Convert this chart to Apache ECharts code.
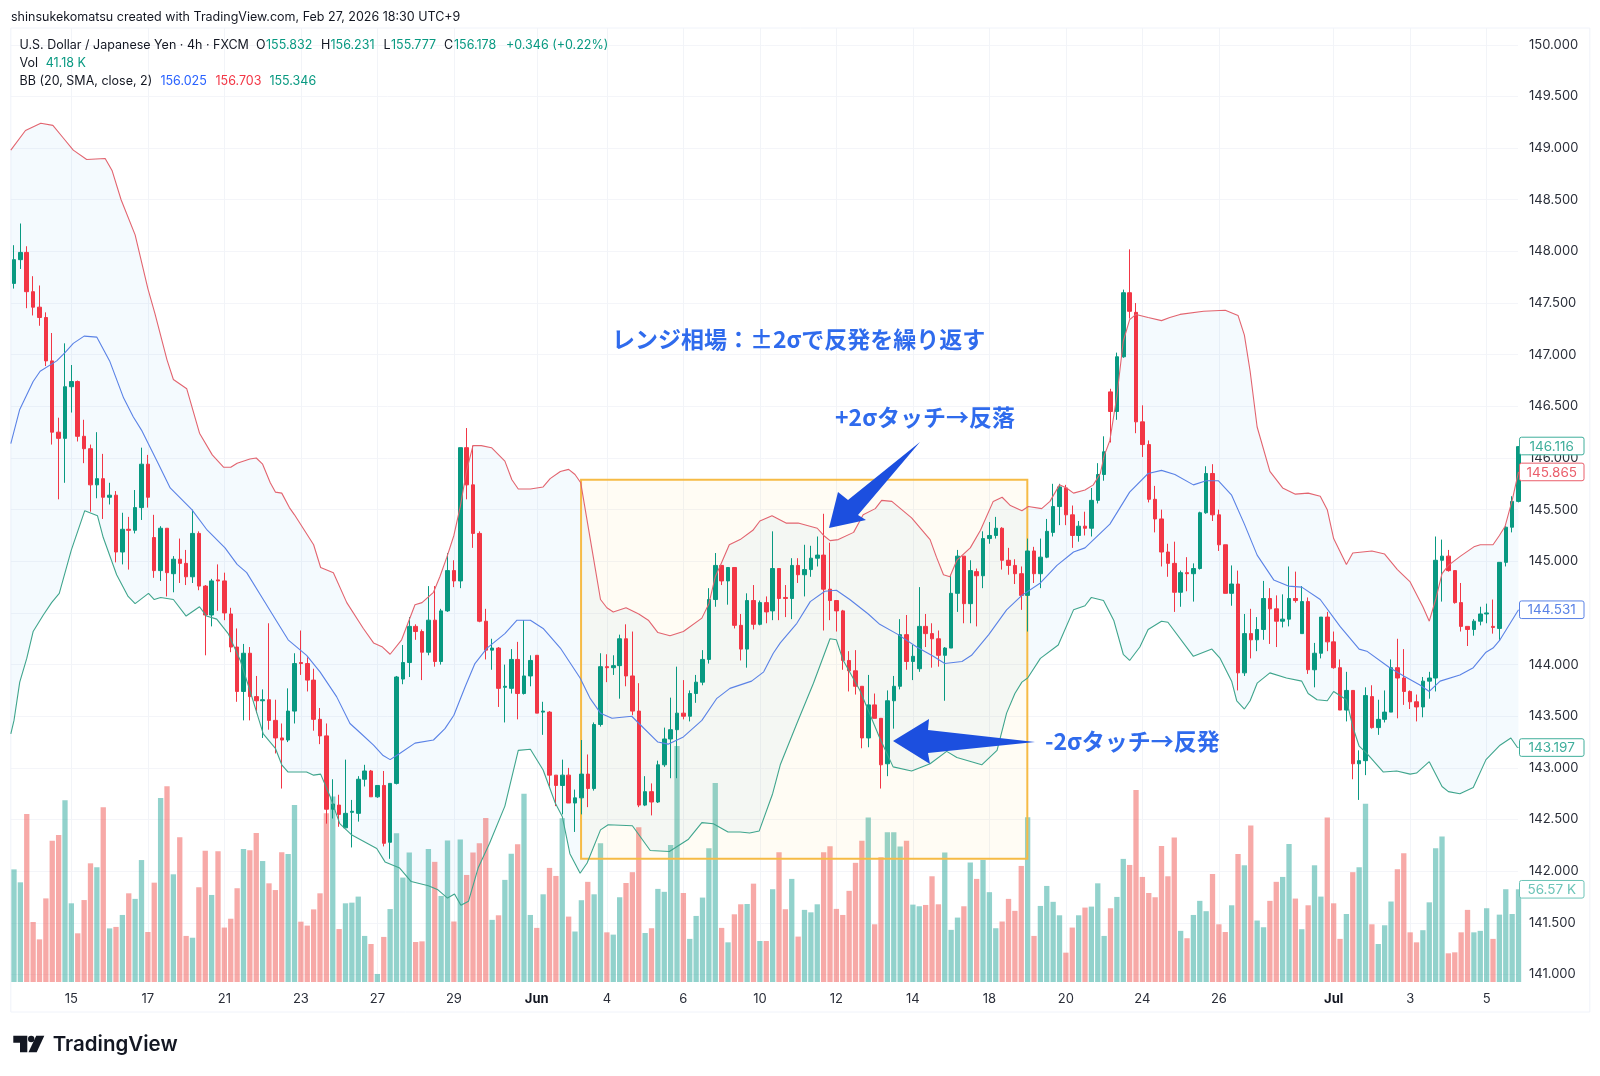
<!DOCTYPE html>
<html>
<head>
<meta charset="utf-8">
<title>USDJPY 4h</title>
<style>
html,body{margin:0;padding:0;background:#fff;}
#chart{width:1600px;height:1076px;}
</style>
<script src="https://cdn.jsdelivr.net/npm/echarts@6/dist/echarts.min.js"></script>
</head>
<body>
<div id="chart"></div>
<script>
// bar index of each date label on the time axis
var tickIdx = [9,21,33,45,57,69,82,93,105,117,129,141,153,165,177,189,207,219,231];
var tickText = ['15','17','21','23','27','29','Jun','4','6','10','12','14','18','20','24','26','Jul','3','5'];

var opens = [
147.69,147.92,147.99,147.61,147.46,147.36,146.94,146.25,146.19,146.69,
146.74,146.21,146.09,145.74,145.80,145.62,145.64,145.09,145.31,145.30,
145.52,145.94,145.23,144.91,145.32,144.88,145.02,144.98,144.85,145.27,
144.76,144.48,144.82,144.81,144.49,144.17,143.74,144.11,143.69,143.65,
143.66,143.46,143.29,143.27,143.55,144.02,144.01,143.85,143.47,143.31,
142.60,142.64,142.42,142.57,142.56,142.89,142.97,142.72,142.83,142.28,
142.85,143.86,144.02,144.37,144.32,144.12,144.43,144.03,144.52,144.91,
144.81,146.10,145.74,145.27,144.42,144.14,144.16,143.78,143.77,144.05,
143.72,143.89,144.09,143.54,143.54,142.93,142.83,142.93,142.66,142.71,
142.94,142.80,143.42,143.98,143.97,143.99,144.25,143.89,143.55,142.64,
142.77,142.67,143.03,143.28,143.37,143.53,143.50,143.72,143.83,144.05,
144.63,144.96,144.81,144.94,144.38,144.15,144.62,144.39,144.60,144.52,
144.93,144.65,144.64,144.96,144.87,144.92,145.03,145.06,144.73,144.62,
144.52,144.04,143.94,143.79,143.29,143.61,143.48,143.04,143.65,143.79,
144.29,144.03,143.96,144.37,144.30,144.25,144.09,144.16,144.69,145.05,
144.59,144.90,144.86,145.22,145.25,145.32,145.01,144.96,144.88,144.67,
145.10,144.88,145.04,145.28,145.53,145.71,145.45,145.25,145.34,145.32,
145.59,145.84,146.64,146.45,146.98,147.60,147.41,146.35,146.13,145.60,
145.41,145.09,144.98,144.70,144.89,144.88,144.93,145.47,145.85,145.45,
145.16,144.69,144.78,143.92,144.30,144.24,144.34,144.64,144.54,144.42,
144.44,144.64,144.30,144.61,143.95,144.11,144.46,144.22,143.97,143.56,
143.75,143.04,143.07,143.69,143.39,143.47,143.54,143.97,143.87,143.74,
143.64,143.59,143.84,143.87,145.01,145.05,144.91,144.60,144.37,144.34,
144.42,144.49,144.37,144.35,144.99,145.33,145.58];

var closes = [
147.92,147.99,147.61,147.46,147.36,146.94,146.25,146.19,146.69,146.74,
146.21,146.09,145.74,145.80,145.62,145.64,145.09,145.31,145.30,145.52,
145.94,145.62,144.91,145.32,144.89,145.02,144.98,144.85,145.27,144.76,
144.48,144.81,144.81,144.50,144.17,143.74,144.11,143.69,143.65,143.66,
143.46,143.29,143.27,143.55,144.01,144.01,143.85,143.47,143.31,142.60,
142.65,142.55,142.56,142.58,142.89,142.97,142.72,142.83,142.27,142.85,
143.88,144.02,144.37,144.32,144.12,144.43,144.03,144.52,144.91,144.81,
146.10,145.74,145.27,144.42,144.14,144.16,143.77,143.79,144.05,143.72,
143.89,144.04,143.53,143.55,142.93,142.83,142.93,142.66,142.71,142.94,
142.80,143.42,143.98,143.97,143.99,144.25,143.89,143.55,142.64,142.77,
142.67,143.03,143.28,143.37,143.53,143.50,143.72,143.83,144.05,144.63,
144.96,144.81,144.94,144.38,144.15,144.62,144.39,144.60,144.51,144.93,
144.64,144.64,144.96,144.87,144.92,145.03,145.06,144.73,144.62,144.52,
144.04,143.94,143.79,143.29,143.61,143.48,143.03,143.65,143.79,144.29,
144.03,144.08,144.37,144.30,144.25,144.09,144.16,144.69,145.05,144.59,
144.91,144.86,145.22,145.25,145.32,145.01,144.96,144.88,144.67,145.10,
144.88,145.04,145.29,145.53,145.72,145.45,145.25,145.34,145.32,145.59,
145.84,146.06,146.45,146.98,147.60,147.42,146.35,146.13,145.60,145.41,
145.09,144.98,144.70,144.89,144.88,144.93,145.47,145.85,145.45,145.16,
144.69,144.78,143.92,144.30,144.24,144.34,144.64,144.54,144.42,144.44,
144.64,144.62,144.61,143.95,144.11,144.46,144.22,143.97,143.56,143.75,
143.04,143.07,143.70,143.39,143.47,143.54,143.97,143.87,143.74,143.64,
143.59,143.84,143.87,145.01,145.05,144.91,144.60,144.37,144.34,144.42,
144.49,144.50,144.36,144.99,145.33,145.58,146.11];

var highs = [
148.06,148.27,148.05,147.76,147.67,147.41,147.21,146.39,147.11,146.90,
146.75,146.37,146.13,146.25,146.04,145.76,145.68,145.47,145.43,145.69,
146.10,146.03,145.45,145.34,145.32,145.05,145.22,145.11,145.50,145.29,
144.77,144.83,144.97,144.89,144.55,144.35,144.20,144.17,143.89,143.76,
144.40,143.66,143.43,143.77,144.11,144.33,144.07,143.96,143.58,143.43,
142.89,142.74,143.08,142.69,142.92,143.03,142.98,142.83,142.97,142.85,
143.89,144.19,144.46,144.39,144.34,144.76,144.76,144.54,145.08,145.01,
146.10,146.29,146.12,145.29,144.54,144.25,144.17,144.00,144.15,144.22,
144.43,144.09,144.09,143.64,143.55,142.93,143.08,143.00,142.79,143.27,
143.13,143.44,144.11,144.10,144.09,144.29,144.39,144.32,143.82,142.92,
142.85,143.07,143.39,143.68,143.98,143.85,143.75,143.90,144.14,144.74,
145.08,144.96,144.94,144.94,144.49,144.69,144.77,144.62,144.66,145.29,
144.93,144.77,145.03,145.03,145.16,145.15,145.24,145.46,145.18,144.62,
144.53,144.13,144.14,143.79,143.90,143.72,143.48,143.75,143.89,144.44,
144.48,144.19,144.75,144.49,144.40,144.33,144.17,144.87,145.11,145.05,
145.01,144.93,145.29,145.38,145.43,145.33,145.13,145.02,144.95,145.22,
145.14,145.22,145.41,145.75,145.75,145.74,145.54,145.39,145.48,145.71,
145.95,146.21,146.67,147.02,147.63,148.02,147.50,146.51,146.17,145.73,
145.50,145.17,145.19,144.91,145.04,144.98,145.48,145.92,145.94,145.50,
145.16,144.96,144.91,144.49,144.54,144.46,144.81,144.74,144.67,144.68,
144.95,144.90,144.76,144.65,144.21,144.46,144.51,144.32,144.05,143.93,
143.75,143.17,143.78,143.80,143.66,143.75,144.05,144.25,144.15,143.75,
143.71,143.88,143.93,145.24,145.21,145.11,144.91,144.79,144.37,144.44,
144.56,144.59,144.63,144.99,145.34,145.63,146.116];

var lows = [
147.64,147.83,147.45,147.38,147.28,146.89,146.13,145.60,145.76,146.44,
146.16,145.95,145.48,145.61,145.41,145.55,144.99,144.97,144.92,145.27,
145.40,145.52,144.84,144.81,144.66,144.70,144.79,144.77,144.79,144.72,
144.09,144.37,144.52,144.43,144.12,143.64,143.46,143.46,143.53,143.29,
143.37,143.14,142.80,143.25,143.43,143.90,143.74,143.36,143.23,142.46,
142.51,142.43,142.42,142.23,142.48,142.82,142.72,142.71,142.24,142.12,
142.84,143.81,143.88,144.24,143.85,144.09,143.98,144.00,144.51,144.75,
144.74,145.60,145.13,144.41,144.05,143.95,143.59,143.44,143.72,143.47,
143.71,143.79,143.53,143.32,142.82,142.63,142.55,142.66,142.38,142.55,
142.62,142.78,143.40,143.83,143.90,143.67,143.79,143.51,142.62,142.63,
142.54,142.66,143.01,142.90,142.90,143.47,143.45,143.63,143.80,144.01,
144.56,144.77,144.58,144.35,144.04,143.97,144.34,144.38,144.40,144.43,
144.43,144.46,144.44,144.79,144.66,144.85,144.95,144.33,144.43,144.32,
143.95,143.74,143.71,143.19,143.20,143.48,142.80,142.92,143.38,143.76,
143.95,143.85,143.93,144.17,143.97,143.98,143.65,144.16,144.51,144.40,
144.40,144.37,144.74,145.17,145.22,144.92,144.87,144.78,144.53,144.32,
144.79,144.74,145.03,145.24,145.35,145.35,145.13,145.19,145.25,145.24,
145.56,145.78,146.15,146.37,146.97,147.35,146.24,146.01,145.57,145.28,
144.95,144.85,144.51,144.56,144.71,144.61,144.92,145.46,145.39,145.10,
144.69,144.57,143.75,143.89,144.06,144.13,144.24,144.20,144.17,144.36,
144.37,144.60,144.30,143.91,143.78,144.06,144.13,143.96,143.56,143.45,
142.89,142.69,142.93,143.38,143.32,143.44,143.54,143.48,143.61,143.57,
143.45,143.49,143.67,143.74,144.61,144.90,144.59,144.32,144.18,144.28,
144.38,144.40,144.30,144.24,144.95,145.28,145.57];

// volume, thousands
var volumes = [
68.7,60.8,102.5,36.6,26.0,51.0,86.2,89.7,110.9,48.0,
29.7,50.0,72.4,70.0,106.6,32.7,33.6,40.9,54.1,50.7,
74.4,30.5,60.6,112.3,119.4,65.7,88.3,28.1,27.0,57.8,
80.1,53.1,79.7,33.2,38.6,57.2,81.2,80.3,90.9,73.8,
60.2,56.1,79.1,78.1,108.0,36.8,34.4,44.3,54.1,103.0,
113.1,32.3,48.0,48.4,52.1,28.1,23.2,4.9,27.5,44.5,
90.7,63.7,79.0,24.4,24.8,81.2,73.3,52.5,86.3,36.9,
86.9,65.3,79.0,84.7,100.1,37.9,40.7,62.3,78.3,84.0,
114.8,40.9,33.0,53.5,69.6,64.7,99.9,39.9,30.8,49.9,
61.1,53.5,84.7,30.3,28.9,51.7,60.4,67.0,94.4,29.9,
32.8,56.8,55.0,83.6,144.0,54.3,26.3,40.3,51.5,81.6,
121.4,33.0,24.2,41.3,47.4,47.6,60.0,25.0,25.0,56.6,
79.2,44.4,62.9,27.7,44.0,42.5,47.4,79.2,82.8,44.6,
40.9,55.6,72.7,86.1,100.3,35.2,76.1,91.4,91.4,82.6,
86.1,47.2,46.2,47.0,64.5,47.4,79.0,31.8,39.3,46.2,
72.9,62.9,74.5,54.8,32.8,36.9,50.7,43.4,70.8,100.5,
28.1,46.4,58.6,48.9,40.7,17.9,33.2,40.7,45.4,46.0,
60.2,28.1,45.0,51.9,75.1,71.4,117.2,64.1,54.3,51.7,
83.0,64.5,88.1,31.2,26.7,40.9,49.5,43.2,65.9,35.2,
30.5,46.8,78.1,71.2,95.4,37.5,33.4,49.5,61.1,64.1,
84.2,50.9,32.2,46.8,71.2,52.1,100.3,48.0,26.3,41.5,
67.0,70.0,108.7,35.2,23.2,34.6,49.1,68.8,78.6,30.3,
24.2,31.6,48.6,81.6,88.7,17.5,18.1,30.3,44.0,30.3,
31.2,45.0,26.3,41.1,56.6,41.5,56.57];

// Bollinger bands, [bar index, price] read at the line's bends
var upperBand = [[-0.5,148.98],[1.8,149.17],[4.2,149.24],[6.1,149.22],[7.7,149.10],[9.3,148.98],[11.4,148.89],[14.3,148.90],[15.4,148.78],[16.8,148.50],[19,148.16],[21,147.64],[22.1,147.40],[24,146.95],[25,146.76],[27.1,146.67],[29.1,146.24],[31.1,146.03],[32.9,145.91],[34,145.91],[35,145.95],[37,145.99],[38,146.0],[39,145.94],[40.2,145.76],[41,145.67],[42,145.66],[43.2,145.52],[44,145.45],[47,145.16],[48.1,144.94],[50.1,144.89],[52.2,144.60],[54.8,144.35],[56.4,144.21],[57.8,144.17],[59,144.10],[60.8,144.24],[62.9,144.58],[64,144.60],[65.8,144.70],[66.8,144.85],[67.9,145.04],[69,145.25],[70,145.53],[71,145.88],[72,146.12],[73.3,146.12],[74.9,146.10],[77,145.97],[78.1,145.79],[79.1,145.70],[81,145.70],[83,145.72],[84.1,145.80],[85.7,145.87],[87,145.89],[88,145.84],[88.9,145.76],[90.6,145.14],[92,144.63],[93,144.55],[94,144.51],[96,144.55],[98,144.49],[99.5,144.43],[101,144.31],[102.9,144.28],[105,144.32],[107.9,144.45],[109,144.59],[110,144.85],[110.8,144.96],[112.2,145.16],[113.9,145.21],[115.9,145.30],[117,145.39],[118.9,145.44],[121.1,145.37],[123,145.37],[126,145.32],[127,145.25],[128,145.20],[129.3,145.21],[131.7,145.28],[132.5,145.37],[133.2,145.45],[135.1,145.51],[136.1,145.59],[137.7,145.58],[140.8,145.42],[143.7,145.21],[144.7,145.04],[145.8,144.87],[146.8,144.85],[147.9,145.01],[150,145.13],[151.6,145.30],[153.6,145.58],[155,145.62],[156.3,145.54],[158.1,145.49],[159.1,145.53],[161.2,145.51],[162.5,145.58],[164,145.74],[165.1,145.71],[166.2,145.66],[168,145.69],[169.3,145.74],[170.4,145.85],[171,146.02],[171.9,146.17],[173,146.6],[174,147.13],[175,147.34],[176,147.39],[177.9,147.36],[180,147.33],[181.3,147.36],[182.9,147.39],[186.6,147.42],[190,147.43],[192,147.38],[193,147.19],[193.9,146.84],[195,146.30],[197,145.87],[199,145.71],[201,145.65],[203,145.66],[204.9,145.63],[206,145.50],[207,145.22],[209,144.97],[210,145.08],[213,145.10],[215,145.07],[217,144.92],[219,144.80],[221,144.56],[222,144.42],[223,144.63],[224,144.88],[225,144.96],[226.9,145.05],[229,145.14],[230,145.16],[232,145.16],[233,145.25],[233.9,145.34],[235,145.59],[236,145.865]];

var basisBand = [[-0.5,146.14],[0.9,146.47],[3,146.74],[4.1,146.84],[6.7,146.94],[8,147.02],[9.3,147.11],[11,147.18],[13,147.17],[15,146.94],[17.2,146.58],[18.7,146.40],[20,146.27],[22.6,145.95],[24.5,145.71],[27.9,145.50],[30.2,145.31],[33.1,145.13],[35,144.97],[36.5,144.89],[39.1,144.63],[41.2,144.42],[43,144.24],[45.9,144.09],[48,143.93],[50.6,143.69],[52.7,143.43],[54.3,143.34],[56.4,143.22],[57.9,143.12],[59,143.08],[60.5,143.14],[62.9,143.24],[65.8,143.27],[67.6,143.38],[69,143.51],[70.8,143.79],[72.3,144.01],[74.2,144.16],[77,144.30],[78.9,144.43],[81,144.43],[83,144.35],[85.7,144.16],[88.8,143.87],[90.4,143.67],[92,143.53],[93.8,143.48],[96.9,143.50],[98.2,143.42],[101,143.25],[102.6,143.23],[105,143.30],[107.9,143.46],[110.2,143.67],[112.3,143.77],[115.7,143.84],[117.6,143.93],[119.1,144.11],[120.2,144.21],[122.8,144.40],[124.9,144.61],[127.2,144.71],[129,144.72],[131.1,144.63],[134,144.49],[135.8,144.39],[138.7,144.29],[141.6,144.17],[144.2,144.08],[146,144.01],[148.7,144.03],[150.2,144.09],[152.9,144.29],[155.7,144.53],[158.1,144.67],[161,144.79],[163.6,144.96],[166.2,145.09],[168,145.13],[171.9,145.36],[175,145.67],[177.9,145.85],[180,145.88],[182.1,145.84],[185,145.74],[187,145.78],[188.9,145.78],[191,145.64],[193,145.36],[195,145.06],[197.6,144.82],[199.9,144.76],[202,144.75],[204.9,144.63],[208,144.37],[211,144.15],[212.2,144.13],[215.8,143.97],[218,143.89],[220.6,143.80],[222,143.74],[223.7,143.84],[226.8,143.90],[228.9,143.97],[230.9,144.12],[232,144.16],[233.1,144.24],[236,144.531]];

var lowerBand = [[-0.5,143.33],[0,143.46],[0.9,143.83],[2,144.06],[3,144.32],[4.6,144.48],[5.9,144.60],[7.1,144.69],[9,145.11],[11.1,145.49],[13.1,145.44],[14,145.23],[16.1,144.87],[17.9,144.66],[19,144.59],[21.1,144.69],[22,144.63],[23,144.65],[25,144.63],[27,144.47],[29.1,144.56],[30.2,144.47],[31.8,144.44],[33.6,144.30],[35.5,144.04],[37,143.75],[39.1,143.33],[41,143.19],[42,143.03],[43,142.96],[45.9,142.96],[47,142.93],[48.1,142.94],[49.6,142.72],[51.1,142.46],[53,142.35],[56.9,142.22],[58.2,142.09],[60.5,142.03],[62.3,141.90],[65,141.86],[66.5,141.82],[68,141.74],[69.1,141.78],[70.1,141.67],[71.3,141.71],[72.8,142.03],[74.6,142.27],[77,142.63],[79.1,143.17],[81,143.18],[83,142.98],[84.9,142.66],[86,142.53],[87.2,142.17],[88.8,141.98],[89.9,142.08],[92,142.40],[93.2,142.45],[97,142.44],[99.8,142.20],[102.8,142.19],[105.8,142.31],[107.9,142.47],[109.7,142.46],[112,142.38],[113.9,142.38],[115.4,142.37],[116.9,142.39],[119,142.75],[120.2,143.03],[122.8,143.43],[125.4,143.82],[128,144.25],[129,144.24],[130,144.05],[132.7,143.75],[135.8,143.29],[137.9,143.01],[140.8,142.97],[143.7,143.04],[146.3,143.16],[147.9,143.10],[151.8,143.03],[154.2,143.17],[155.7,143.53],[157,143.72],[158.1,143.83],[159,143.87],[161,144.06],[163.8,144.19],[166.2,144.53],[168,144.57],[169,144.65],[170.9,144.62],[172.5,144.43],[174,144.10],[175,144.04],[176.6,144.17],[177.9,144.34],[180,144.42],[181,144.41],[185,144.08],[187.9,144.15],[189.2,144.06],[191,143.84],[191.8,143.65],[193,143.57],[193.9,143.65],[195,143.82],[197,143.92],[199.6,143.87],[202,143.84],[203,143.72],[204.4,143.66],[206,143.65],[207,143.74],[209,143.66],[210,143.40],[211,143.21],[212.2,143.14],[214.8,142.96],[216.9,142.97],[219,142.94],[220,142.95],[222,143.06],[224,142.82],[225,142.77],[226.8,142.75],[228.9,142.81],[230.9,143.08],[233.1,143.22],[234.8,143.29],[235.8,143.20],[236,143.197]];

// the highlighted range box: from bar, to bar, top price, bottom price
var rangeBox = [88.95, 158.95, 145.79, 142.12];

var UP = '#089981', DOWN = '#f23645';
var FONT = 'Inter, Roboto, sans-serif';
var JP = '"Noto Sans CJK JP", sans-serif';

var candleData = opens.map(function (o, i) {
    return [i, o, closes[i], lows[i], highs[i]];
});
var volumeData = volumes.map(function (v, i) {
    return {
        value: [i, v],
        itemStyle: {color: closes[i] >= opens[i] ? 'rgba(38,166,154,0.5)' : 'rgba(239,83,80,0.5)'}
    };
});

function bandLine(data, color) {
    return {
        type: 'line',
        data: data,
        xAxisIndex: 0,
        yAxisIndex: 0,
        showSymbol: false,
        smooth: false,
        z: 5,
        lineStyle: {color: color, width: 1.1},
        silent: true
    };
}

var chart = echarts.init(document.getElementById('chart'));

chart.setOption({
    animation: false,
    backgroundColor: '#fff',
    grid: [
        {left: 10.81, width: 1507.2, top: 44.8, height: 929.7},
        {left: 10.81, width: 1507.2, top: 28, height: 954}
    ],
    xAxis: [
        {
            gridIndex: 0, type: 'value', min: -0.5, max: 235.92,
            show: false, splitLine: {show: false}
        },
        {
            gridIndex: 1, type: 'value', min: -0.5, max: 235.92,
            axisLine: {show: false},
            axisTick: {show: false, customValues: tickIdx},
            splitLine: {show: true, lineStyle: {color: '#f2f4f8', width: 1}},
            axisLabel: {
                customValues: tickIdx,
                margin: 11,
                fontFamily: FONT,
                fontSize: 13,
                color: '#2a2e39',
                formatter: function (v) {
                    var t = tickText[tickIdx.indexOf(v)];
                    return (t === 'Jun' || t === 'Jul') ? '{b|' + t + '}' : t;
                },
                rich: {b: {fontFamily: FONT, fontSize: 13, fontWeight: 'bold', color: '#131722'}}
            }
        }
    ],
    yAxis: [
        {
            gridIndex: 0, type: 'value', position: 'right', min: 141, max: 150, interval: 0.5,
            axisLine: {show: false},
            axisTick: {show: false},
            splitLine: {show: true, lineStyle: {color: '#f4f5f9', width: 1}},
            axisLabel: {
                margin: 11,
                padding: [2, 0, 0, 0],
                fontFamily: FONT,
                fontSize: 13,
                color: '#2a2e39',
                formatter: function (v) { return v.toFixed(3); }
            }
        },
        {
            gridIndex: 1, type: 'value', min: 0, max: 582, show: false, splitLine: {show: false}
        }
    ],
    series: [
        {
            // fill between the outer bands
            type: 'custom',
            xAxisIndex: 0,
            yAxisIndex: 0,
            clip: true,
            silent: true,
            z: 1,
            data: [[0, 145]],
            renderItem: function (params, api) {
                var pts = upperBand.concat(lowerBand.slice().reverse()).map(function (p) {
                    return api.coord(p);
                });
                return {
                    type: 'polygon',
                    shape: {points: pts},
                    style: {fill: 'rgba(33,150,243,0.05)', stroke: 'none'}
                };
            }
        },
        {
            name: 'Vol',
            type: 'bar',
            xAxisIndex: 1,
            yAxisIndex: 1,
            barWidth: 5.3,
            z: 2,
            silent: true,
            data: volumeData
        },
        {
            // the drawn range box
            type: 'custom',
            xAxisIndex: 0,
            yAxisIndex: 0,
            clip: false,
            silent: true,
            z: 3,
            data: [[rangeBox[0], rangeBox[2]]],
            renderItem: function (params, api) {
                var a = api.coord([rangeBox[0], rangeBox[2]]);
                var b = api.coord([rangeBox[1], rangeBox[3]]);
                return {
                    type: 'rect',
                    shape: {x: a[0], y: a[1], width: b[0] - a[0], height: b[1] - a[1]},
                    style: {fill: 'rgba(255,193,40,0.05)', stroke: '#f6bb45', lineWidth: 2}
                };
            }
        },
        {
            name: 'USDJPY',
            type: 'candlestick',
            xAxisIndex: 0,
            yAxisIndex: 0,
            barWidth: 4,
            z: 4,
            silent: true,
            itemStyle: {color: UP, color0: DOWN, borderColor: UP, borderColor0: DOWN, borderWidth: 1},
            data: candleData
        },
        bandLine(upperBand, '#e2646f'),
        bandLine(basisBand, '#5a82e6'),
        bandLine(lowerBand, '#3fa58d')
    ]
});

// header, annotations and price tags sit on top of the chart
function txt(x, y, s, color, extra) {
    var st = {x: x, y: y, text: s, fill: color || '#131722', font: '12.5px ' + FONT, textVerticalAlign: 'middle'};
    for (var k in extra || {}) { st[k] = extra[k]; }
    return {type: 'text', z: 30, silent: true, style: st};
}
function poly(points, fill) {
    return {type: 'polygon', z: 28, silent: true, shape: {points: points}, style: {fill: fill}};
}
function tag(y, text, color) {
    return {
        type: 'group', silent: true, children: [
            {type: 'rect', z: 32, shape: {x: 1519.5, y: y - 8.8, width: 64.5, height: 17.6, r: 2},
             style: {fill: '#fff', stroke: color, lineWidth: 1}},
            {type: 'text', z: 33, style: {x: 1551.7, y: y + 0.5, text: text, fill: color, font: '13.5px ' + FONT,
             textAlign: 'center', textVerticalAlign: 'middle'}}
        ]
    };
}
function priceY(v) { return chart.convertToPixel({yAxisIndex: 0}, v); }
function volY(v) { return chart.convertToPixel({yAxisIndex: 1}, v); }

var G = '#089981', R = '#f23645', B = '#2962ff';
var ARROW = '#1c4fdf', NOTE = '#2f6bed', INK = '#131722';
var noteFont = {font: 'bold 23px ' + JP};

chart.setOption({
    graphic: [
        // outer frame of the pane
        {type: 'rect', z: 0, silent: true, shape: {x: 10.8, y: 28, width: 1579, height: 984},
         style: {fill: 'none', stroke: '#f0f3fa', lineWidth: 1}},
        txt(11, 17.2, 'shinsukekomatsu created with TradingView.com, Feb 27, 2026 18:30 UTC+9'),
        txt(19.6, 45.6, 'U.S. Dollar / Japanese Yen · 4h · FXCM'),
        txt(256, 45.6, 'O'), txt(266, 45.6, '155.832', G),
        txt(321, 45.6, 'H'), txt(330.5, 45.6, '156.231', G),
        txt(383.5, 45.6, 'L'), txt(391, 45.6, '155.777', G),
        txt(444, 45.6, 'C'), txt(454, 45.6, '156.178', G),
        txt(506, 45.6, '+0.346 (+0.22%)', G),
        txt(19.6, 63, 'Vol'), txt(45.7, 63, '41.18 K', G),
        txt(19.6, 81, 'BB (20, SMA, close, 2)'),
        txt(160.4, 81, '156.025', B), txt(215.5, 81, '156.703', R), txt(269.4, 81, '155.346', G),

        poly([[829, 528], [838, 492], [848, 500], [920, 442], [858, 515], [866, 520]], ARROW),
        poly([[893, 741], [929, 719], [928, 730], [1035, 742], [928, 753], [930, 764]], ARROW),

        txt(612, 339, 'レンジ相場：±2σで反発を繰り返す', NOTE, noteFont),
        txt(835, 417, '+2σタッチ→反落', NOTE, noteFont),
        txt(1045, 741, '-2σタッチ→反発', NOTE, noteFont),

        tag(priceY(146.116), '146.116', '#3fae9b'),
        tag(priceY(145.865), '145.865', '#ea5e6b'),
        tag(priceY(144.531), '144.531', '#5a82e6'),
        tag(priceY(143.197), '143.197', '#3fae9b'),
        tag(volY(56.57), '56.57 K', '#6cc4b8'),

        // TradingView mark and wordmark
        poly([[13.3, 1035.7], [27.3, 1035.7], [27.3, 1052.3], [20, 1052.3], [20, 1042.7], [13.3, 1042.7]], INK),
        {type: 'circle', z: 28, silent: true, shape: {cx: 31.2, cy: 1039, r: 3.2}, style: {fill: INK}},
        poly([[36.2, 1035.7], [44.3, 1035.7], [36.7, 1052.3], [28.5, 1052.3]], INK),
        txt(52.7, 1044.5, 'TradingView', INK, {font: '600 20.5px ' + FONT})
    ]
});
</script>
</body>
</html>
